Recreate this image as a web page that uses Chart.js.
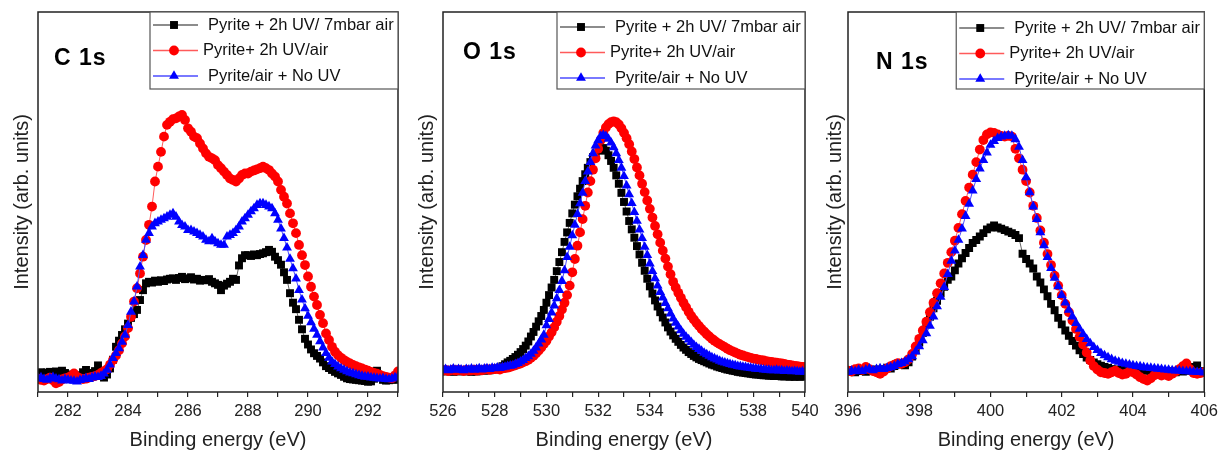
<!DOCTYPE html>
<html>
<head>
<meta charset="utf-8">
<title>XPS C 1s / O 1s / N 1s</title>
<script src="https://cdn.jsdelivr.net/npm/chart.js@4.4.1/dist/chart.umd.min.js"></script>
<style>
    html, body { margin: 0; padding: 0; background: #fff; }
    #wrap { position: relative; width: 1223px; height: 452px; overflow: hidden; }
    canvas { position: absolute; top: 0; }
</style>
</head>
<body>
<div id="wrap">
    <canvas id="c1sChart" width="420" height="452" style="left:0px"></canvas>
    <canvas id="o1sChart" width="420" height="452" style="left:405px"></canvas>
    <canvas id="n1sChart" width="413" height="452" style="left:810px"></canvas>
</div>
<script>
const seriesLabels = ['Pyrite + 2h UV/ 7mbar air', 'Pyrite+ 2h UV/air', 'Pyrite/air + No UV'];

// C 1s, 281.0 - 293.0 eV, 0.1 eV steps
const c1sBlack = [
    5.0, 5.2, 4.9, 5.1, 5.3, 5.0, 5.4, 5.2, 5.6, 5.0,
    4.6, 4.2, 3.8, 3.6, 4.4, 5.2, 5.8, 5.0, 4.9, 5.5,
    7.0, 5.5, 3.8, 4.6, 6.2, 8.5, 11.9, 13.5, 15.0, 16.5,
    18.0, 19.5, 20.5, 21.6, 24.2, 26.8, 28.6, 29.0, 28.8, 29.3,
    29.0, 29.4, 29.2, 29.6, 29.8, 29.9, 29.5, 30.0, 30.3, 29.7,
    29.9, 30.2, 29.6, 29.8, 29.3, 29.5, 29.4, 29.7, 29.0, 28.6,
    28.2, 26.8, 28.0, 28.5, 29.0, 29.8, 29.5, 33.3, 35.2, 36.0,
    36.0, 35.8, 36.2, 36.0, 36.3, 36.5, 36.8, 37.4, 36.9, 35.6,
    34.7, 33.5, 31.5, 29.5, 26.0, 23.5, 21.8, 19.0, 16.5, 14.0,
    12.5, 11.2, 10.2, 9.5, 8.8, 7.8, 6.8, 6.3, 5.8, 5.3,
    4.9, 4.5, 4.0, 3.6, 3.4, 3.3, 3.2, 3.1, 3.0, 2.9,
    2.7, 2.8, 3.5, 5.6, 4.0, 3.2, 3.0, 3.1, 3.3, 3.2,
    3.4
];
const c1sRed = [
    3.5, 3.2, 3.0, 3.4, 3.8, 3.1, 2.3, 2.6, 3.3, 3.6,
    3.8, 4.2, 4.9, 4.0, 3.6, 3.4, 3.5, 3.8, 4.0, 4.2,
    4.5, 5.0, 5.5, 6.0, 7.2, 8.4, 9.6, 11.0, 12.8, 14.6,
    16.8, 19.8, 23.8, 27.3, 31.2, 35.6, 40.0, 44.0, 48.8, 55.4,
    59.3, 63.2, 67.2, 70.3, 71.1, 71.8, 72.0, 72.5, 72.9, 71.6,
    69.4, 68.5, 67.2, 66.8, 65.4, 64.1, 62.8, 61.9, 61.5, 61.0,
    59.7, 58.9, 58.0, 57.1, 56.2, 55.8, 55.4, 56.2, 57.1, 57.5,
    57.5, 58.0, 58.3, 58.6, 58.9, 59.3, 58.9, 58.4, 57.5, 56.7,
    55.4, 53.2, 51.4, 49.6, 47.0, 44.4, 41.8, 38.7, 36.0, 33.4,
    30.4, 27.7, 25.1, 22.9, 20.3, 18.1, 15.4, 13.7, 11.9, 10.6,
    9.7, 9.0, 8.4, 7.9, 7.5, 7.1, 6.8, 6.5, 6.2, 5.9,
    5.6, 5.3, 5.0, 4.8, 4.5, 4.2, 4.0, 3.8, 3.6, 4.4,
    5.4
];
const c1sBlue = [
    3.6, 3.8, 3.4, 3.2, 3.6, 3.9, 3.5, 3.3, 3.0, 3.4,
    3.2, 3.0, 2.9, 2.7, 3.1, 3.3, 3.6, 3.4, 3.8, 4.0,
    3.9, 4.2, 4.8, 5.8, 7.2, 8.9, 10.2, 11.5, 13.2, 15.0,
    17.6, 21.1, 23.8, 27.7, 33.0, 36.0, 40.0, 41.8, 43.5, 44.4,
    44.8, 45.3, 45.7, 46.1, 46.6, 47.0, 46.1, 44.8, 43.9, 43.5,
    42.6, 42.6, 42.2, 41.8, 41.3, 40.9, 40.0, 39.6, 40.4, 39.6,
    39.1, 38.7, 38.7, 40.9, 41.3, 41.8, 42.6, 43.5, 44.8, 45.7,
    46.6, 47.5, 48.3, 49.2, 49.6, 49.6, 49.2, 48.8, 48.3, 47.0,
    45.3, 43.0, 40.5, 38.0, 35.0, 32.5, 29.8, 26.8, 24.3, 22.0,
    20.0, 18.3, 16.6, 15.0, 13.3, 11.7, 10.2, 9.0, 8.0, 7.3,
    6.7, 6.2, 5.8, 5.4, 5.1, 4.9, 4.6, 4.4, 4.2, 4.0,
    4.0, 3.8, 3.7, 3.6, 3.5, 3.6, 3.4, 3.3, 3.5, 3.8,
    4.0
];

// O 1s, 526.0 - 540.0 eV
const o1sBlack = [
    5.6, 5.4, 5.7, 5.5, 5.3, 5.6, 5.4, 5.5, 5.7, 5.4,
    5.5, 5.3, 5.6, 5.4, 5.5, 5.7, 5.6, 5.8, 5.7, 5.9,
    6.0, 6.2, 6.4, 6.8, 7.3, 7.8, 8.2, 8.7, 9.2, 9.8,
    10.5, 11.3, 12.2, 13.3, 14.6, 15.8, 17.2, 18.6, 20.0, 21.6,
    23.5, 25.5, 27.5, 29.5, 31.8, 34.2, 36.8, 39.5, 42.0, 44.5,
    47.0, 49.3, 51.5, 53.5, 55.5, 57.3, 59.0, 60.5, 61.8, 62.8,
    63.5, 64.0, 64.2, 63.5, 62.3, 60.8, 59.0, 57.0, 54.8, 52.4,
    50.0, 47.5, 45.0, 42.8, 40.6, 38.4, 36.2, 34.0, 31.9, 29.8,
    27.8, 25.9, 24.1, 22.5, 21.0, 19.6, 18.3, 17.0, 15.9, 14.9,
    14.0, 13.2, 12.4, 11.7, 11.1, 10.5, 10.0, 9.5, 9.1, 8.7,
    8.4, 8.1, 7.8, 7.5, 7.2, 7.0, 6.7, 6.5, 6.3, 6.1,
    5.9, 5.8, 5.6, 5.5, 5.3, 5.2, 5.1, 5.0, 4.9, 4.8,
    4.7, 4.6, 4.6, 4.5, 4.4, 4.4, 4.3, 4.3, 4.2, 4.2,
    4.2, 4.1, 4.1, 4.2, 4.0, 4.1, 4.0, 4.1, 4.0, 4.1,
    4.1
];
const o1sRed = [
    5.6, 5.8, 5.5, 5.7, 5.9, 5.6, 5.8, 5.7, 5.5, 5.8,
    5.6, 5.7, 5.9, 5.6, 5.8, 5.7, 5.9, 6.0, 5.8, 6.0,
    6.0, 6.1, 5.9, 6.2, 6.3, 6.4, 6.6, 6.8, 7.0, 7.3,
    7.5, 7.8, 8.1, 8.5, 9.0, 9.5, 10.2, 10.9, 11.7, 12.6,
    13.5, 14.6, 15.7, 17.0, 18.5, 20.0, 21.7, 23.5, 25.5, 28.0,
    31.5, 35.0, 38.5, 42.0, 45.5, 49.0, 52.5, 55.5, 58.5, 61.5,
    64.0, 66.3, 68.2, 69.6, 70.5, 71.0, 71.2, 71.0, 70.4, 69.4,
    68.2, 66.8, 65.2, 63.3, 61.3, 59.1, 57.0, 54.8, 52.6, 50.4,
    48.2, 45.9, 43.7, 41.5, 39.3, 37.2, 35.1, 33.0, 31.0, 29.0,
    27.5, 26.1, 24.8, 23.5, 22.3, 21.1, 20.0, 19.1, 18.2, 17.4,
    16.6, 15.9, 15.2, 14.6, 14.0, 13.5, 13.0, 12.6, 12.2, 11.8,
    11.4, 11.0, 10.7, 10.4, 10.1, 9.8, 9.6, 9.4, 9.2, 9.0,
    8.8, 8.7, 8.5, 8.4, 8.3, 8.1, 8.0, 7.9, 7.8, 7.7,
    7.6, 7.5, 7.4, 7.2, 7.1, 7.0, 6.9, 6.8, 6.7, 6.6,
    6.6
];
const o1sBlue = [
    5.8, 6.0, 5.7, 5.9, 6.1, 5.8, 6.0, 5.9, 5.7, 6.0,
    5.9, 6.1, 5.8, 6.0, 6.2, 5.9, 6.1, 6.2, 6.0, 6.3,
    6.2, 6.4, 6.3, 6.5, 6.6, 6.8, 6.9, 7.0, 7.3, 7.6,
    8.0, 8.4, 8.9, 9.4, 10.0, 10.8, 11.7, 12.7, 13.8, 15.0,
    17.5, 19.2, 20.9, 22.7, 24.6, 26.8, 29.2, 32.0, 35.5, 38.2,
    41.2, 44.0, 46.8, 49.6, 52.4, 55.5, 58.0, 60.5, 62.8, 64.8,
    66.2, 67.3, 67.6, 67.3, 66.6, 65.6, 64.4, 62.8, 61.0, 59.0,
    56.8, 54.3, 52.0, 49.7, 47.3, 45.0, 42.7, 40.5, 38.2, 36.0,
    33.8, 31.8, 29.9, 28.0, 26.3, 24.8, 23.4, 22.0, 20.6, 19.3,
    18.2, 17.2, 16.2, 15.3, 14.5, 13.8, 13.1, 12.4, 11.8, 11.3,
    10.8, 10.3, 9.9, 9.5, 9.1, 8.8, 8.5, 8.2, 7.9, 7.7,
    7.5, 7.3, 7.1, 7.0, 6.8, 6.7, 6.6, 6.5, 6.4, 6.3,
    6.2, 6.1, 6.0, 6.0, 5.9, 5.8, 5.8, 5.7, 5.7, 5.8,
    5.6, 5.7, 5.5, 5.6, 5.5, 5.4, 5.5, 5.4, 5.3, 5.4,
    5.3
];

// N 1s, 396.0 - 406.0 eV
const n1sBlack = [
    5.4, 5.8, 5.2, 5.5, 5.9, 5.3, 5.6, 5.8, 5.9, 5.6,
    6.0, 6.4, 6.2, 6.8, 7.5, 7.2, 7.0, 7.8, 9.3, 11.0,
    13.0, 15.5, 17.8, 19.8, 22.0, 24.0, 26.0, 27.7, 29.5, 30.4,
    32.0, 33.8, 35.2, 36.6, 37.9, 39.2, 40.0, 40.9, 41.8, 42.8,
    43.3, 43.8, 43.3, 43.0, 42.6, 42.2, 41.8, 41.3, 40.5, 36.4,
    35.0, 33.8, 32.5, 30.4, 28.8, 27.0, 25.2, 23.2, 21.5, 19.5,
    17.8, 16.2, 14.8, 13.4, 12.2, 11.0, 10.0, 9.1, 8.4, 7.8,
    7.3, 6.9, 6.6, 6.3, 6.0, 5.9, 5.8, 6.4, 5.8, 6.6,
    6.0, 5.8, 5.5, 5.6, 5.8, 5.4, 5.5, 5.6, 5.2, 5.4,
    5.5, 5.3, 5.2, 5.8, 5.4, 5.6, 5.7, 6.6, 7.0, 5.5,
    5.4
];
const n1sRed = [
    5.6, 5.4, 6.0, 6.2, 5.8, 6.6, 6.0, 5.5, 5.2, 4.8,
    5.4, 6.2, 6.8, 7.2, 7.6, 7.4, 7.8, 8.6, 10.0, 12.0,
    14.0, 16.2, 18.5, 21.0, 23.5, 26.0, 28.6, 31.2, 34.0, 36.8,
    39.8, 43.2, 46.8, 50.3, 53.8, 57.2, 60.5, 63.8, 66.3, 67.8,
    68.3, 68.2, 67.8, 67.4, 67.2, 67.4, 67.2, 64.0, 61.5, 58.5,
    55.5, 52.5, 49.0, 45.8, 42.5, 39.3, 36.3, 33.4, 30.6, 28.0,
    25.5, 23.2, 21.0, 18.8, 16.6, 14.5, 12.5, 10.4, 8.3, 6.8,
    5.9, 5.2, 5.0, 4.8, 5.2, 5.6, 5.0, 4.6, 4.8, 5.4,
    5.2, 4.6, 3.9, 3.4, 3.0, 3.6, 4.4, 4.8, 4.3, 4.6,
    4.2, 4.8, 5.4, 6.0, 6.8, 7.5, 6.0, 5.0, 4.8, 5.0,
    5.2
];
const n1sBlue = [
    5.2, 5.6, 5.4, 5.8, 5.5, 5.9, 6.1, 5.7, 6.0, 6.2,
    6.0, 6.3, 6.5, 6.8, 7.3, 7.6, 8.0, 8.6, 9.4, 10.6,
    12.0, 13.6, 15.4, 17.4, 19.8, 22.5, 25.0, 27.6, 31.0, 34.5,
    37.2, 40.0, 43.0, 46.3, 49.5, 53.0, 56.0, 58.8, 61.0, 63.0,
    65.0, 66.0, 66.8, 67.2, 67.4, 67.5, 67.4, 66.5, 64.5, 61.0,
    56.5, 52.5, 48.8, 45.5, 42.0, 38.6, 35.5, 32.6, 30.0, 27.8,
    25.5, 23.5, 21.6, 19.8, 18.1, 16.6, 15.2, 13.9, 12.8, 11.8,
    11.0, 10.2, 9.6, 9.1, 8.6, 8.2, 7.9, 7.6, 7.4, 7.2,
    7.0, 6.8, 6.7, 6.5, 6.4, 6.3, 6.2, 6.1, 6.0, 5.9,
    5.8, 5.7, 5.6, 5.6, 5.5, 5.4, 5.4, 5.3, 5.2, 5.2,
    5.1
];

const lineColors = ['#666666', '#ff5a5a', '#4d4dff'];
const markerColors = ['#000000', '#ff0000', '#0000ff'];
const markerStyles = ['rect', 'circle', 'triangle'];
const markerSizes = [5.6, 4.9, 5.7];
const legendTextX = [190, 195, 190];

Chart.defaults.font.family = "'Liberation Sans', Arial, sans-serif";

// energy grid of the spectrometer (0.1 eV steps)
function energyGrid(start, end) {
    const out = [];
    const n = Math.round((end - start) * 10);
    for (let i = 0; i <= n; i++) {
        out.push(+(start + i / 10).toFixed(1));
    }
    return out;
}

const panelDecor = {
    id: 'panelDecor',
    afterDraw(chart, args, opts) {
        const ctx = chart.ctx;
        const a = chart.chartArea;
        ctx.save();

        // frame around the plot
        ctx.strokeStyle = '#222';
        ctx.lineWidth = 1.5;
        ctx.strokeRect(a.left, a.top, a.right - a.left, a.bottom - a.top);

        // core level label
        ctx.font = "bold 23px 'Liberation Sans', Arial, sans-serif";
        ctx.letterSpacing = '1px';
        ctx.fillStyle = '#000';
        ctx.textBaseline = 'alphabetic';
        ctx.textAlign = 'left';
        ctx.fillText(opts.label, a.left + opts.labelX, opts.labelY);
        ctx.letterSpacing = '0px';

        // legend box, top right inside the frame
        const bw = 248, bh = 77;
        const bx = a.right - bw, by = a.top;
        ctx.fillStyle = '#fff';
        ctx.fillRect(bx, by, bw, bh);
        ctx.strokeStyle = '#555';
        ctx.lineWidth = 1.2;
        ctx.strokeRect(bx, by, bw, bh);

        ctx.font = "16.5px 'Liberation Sans', Arial, sans-serif";
        ctx.textBaseline = 'middle';
        chart.data.datasets.forEach((ds, i) => {
            const y = a.top + 13 + opts.legendDy + i * 25.5;
            ctx.strokeStyle = ds.borderColor;
            ctx.lineWidth = 1.5;
            ctx.beginPath();
            ctx.moveTo(bx + 3, y);
            ctx.lineTo(bx + 48, y);
            ctx.stroke();
            ctx.fillStyle = ds.pointBackgroundColor;
            Chart.helpers.drawPoint(ctx, {pointStyle: ds.pointStyle, radius: ds.pointRadius, borderWidth: 0, rotation: 0}, bx + 24, y);
            ctx.fillStyle = '#111';
            ctx.fillText(ds.label, a.right - legendTextX[i], y);
        });
        ctx.restore();
    }
};

function makePanel(canvasId, energy, values, panel) {
    const datasets = values.map((vals, i) => ({
        label: seriesLabels[i],
        data: energy.map((e, j) => ({x: e, y: vals[j]})),
        borderColor: lineColors[i],
        borderWidth: 1,
        pointStyle: markerStyles[i],
        pointRadius: markerSizes[i],
        pointBackgroundColor: markerColors[i],
        pointBorderWidth: 0,
        tension: 0,
        order: 3 - i
    }));

    new Chart(document.getElementById(canvasId), {
        type: 'line',
        data: { datasets: datasets },
        options: {
            responsive: false,
            animation: false,
            events: [],
            layout: { padding: { top: 12, right: panel.padRight, left: 0, bottom: 0 } },
            plugins: {
                legend: { display: false },
                tooltip: { enabled: false },
                panelDecor: panel
            },
            scales: {
                x: {
                    type: 'linear',
                    min: panel.min,
                    max: panel.max,
                    border: { display: false },
                    grid: { drawOnChartArea: false, drawTicks: true, tickLength: 5, color: '#222', lineWidth: 1.2 },
                    ticks: {
                        stepSize: 1,
                        autoSkip: false,
                        maxRotation: 0,
                        padding: 5,
                        color: '#222',
                        font: { size: 16.5 },
                        callback: v => (v % 2 === 0 ? v : '')
                    },
                    title: {
                        display: true,
                        text: 'Binding energy (eV)',
                        color: '#222',
                        font: { size: 20 },
                        padding: { top: 0, bottom: 0 }
                    },
                    afterFit: s => { s.height = 60; }
                },
                y: {
                    min: 0,
                    max: 100,
                    border: { display: false },
                    grid: { display: false },
                    ticks: { display: false },
                    title: {
                        display: true,
                        text: 'Intensity (arb. units)',
                        color: '#222',
                        font: { size: 20 },
                        padding: { top: panel.yTitlePad, bottom: 0 }
                    },
                    afterFit: s => { s.width = 38; }
                }
            }
        },
        plugins: [panelDecor]
    });
}

document.addEventListener('DOMContentLoaded', function() {
    makePanel('c1sChart', energyGrid(281, 293), [c1sBlack, c1sRed, c1sBlue],
        { min: 281, max: 293, padRight: 22, yTitlePad: 10, label: 'C 1s', labelX: 16, labelY: 65, legendDy: 0 });
    makePanel('o1sChart', energyGrid(526, 540), [o1sBlack, o1sRed, o1sBlue],
        { min: 526, max: 540, padRight: 20, yTitlePad: 10, label: 'O 1s', labelX: 20, labelY: 59, legendDy: 2 });
    makePanel('n1sChart', energyGrid(396, 406), [n1sBlack, n1sRed, n1sBlue],
        { min: 396, max: 406, padRight: 15, yTitlePad: 13, label: 'N 1s', labelX: 28, labelY: 69, legendDy: 3 });
});
</script>
</body>
</html>
